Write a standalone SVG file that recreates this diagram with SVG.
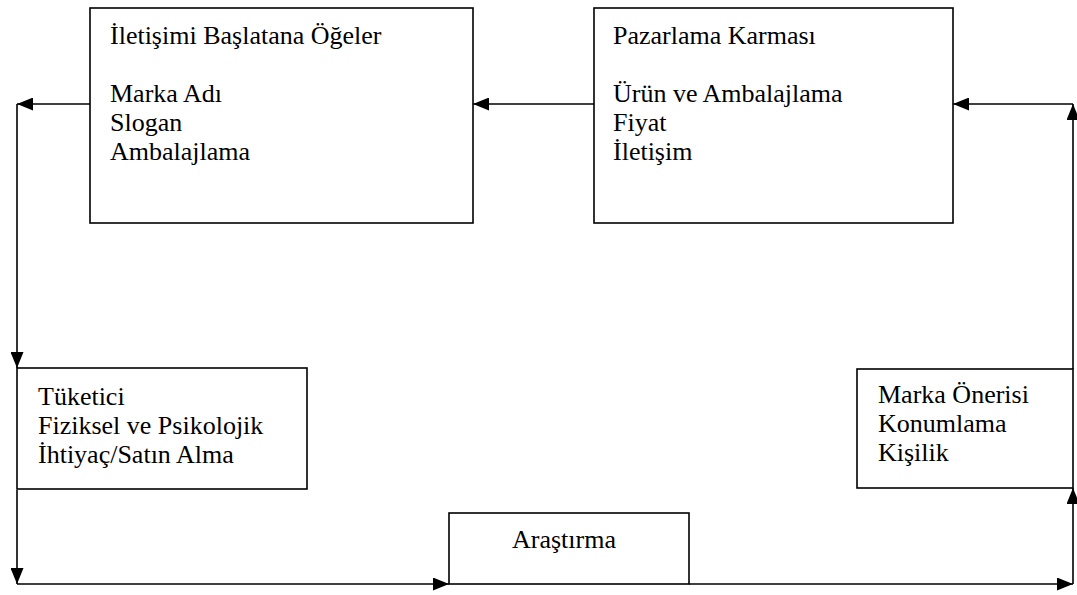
<svg xmlns="http://www.w3.org/2000/svg" width="1077" height="595" viewBox="0 0 1077 595">
<style>
.box{fill:#fff;stroke:#000;stroke-width:1.6}
.t{font-family:"Liberation Serif","Times New Roman",serif;font-size:26px;fill:#000}
.c{fill:none;stroke:#000;stroke-width:1.6}
</style>
<defs>
<marker id="ah" markerUnits="userSpaceOnUse" markerWidth="16" markerHeight="13" refX="16" refY="6.5" orient="auto">
<path d="M0,0 L16,6.5 L0,13 z" fill="#000"/>
</marker>
</defs>
<rect width="1077" height="595" fill="#fff"/>
<g id="connectors">
<path class="c" d="M594,104 H473" marker-end="url(#ah)"/>
<path class="c" d="M90,104 H17" marker-end="url(#ah)"/>
<path class="c" d="M17,104 V368" marker-end="url(#ah)"/>
<path class="c" d="M17,490 V584" marker-end="url(#ah)"/>
<path class="c" d="M17,584 H449" marker-end="url(#ah)"/>
<path class="c" d="M689,584 H1073" marker-end="url(#ah)"/>
<path class="c" d="M1073,584 V488" marker-end="url(#ah)"/>
<path class="c" d="M1073,369 V104" marker-end="url(#ah)"/>
<path class="c" d="M1073,104 H953" marker-end="url(#ah)"/>
</g>
<g id="iletisim">
<rect class="box" x="90" y="8" width="383" height="215"/>
<text class="t" x="110" y="44">İletişimi Başlatana Öğeler</text>
<text class="t" x="110" y="102">Marka Adı</text>
<text class="t" x="110" y="131">Slogan</text>
<text class="t" x="110" y="160">Ambalajlama</text>
</g>
<g id="pazarlama">
<rect class="box" x="594" y="8" width="359" height="215"/>
<text class="t" x="613" y="44">Pazarlama Karması</text>
<text class="t" x="613" y="102">Ürün ve Ambalajlama</text>
<text class="t" x="613" y="131">Fiyat</text>
<text class="t" x="613" y="160">İletişim</text>
</g>
<g id="tuketici">
<rect class="box" x="17" y="368" width="290" height="121"/>
<text class="t" x="38" y="405">Tüketici</text>
<text class="t" x="38" y="434">Fiziksel ve Psikolojik</text>
<text class="t" x="38" y="463">İhtiyaç/Satın Alma</text>
</g>
<g id="marka">
<rect class="box" x="857" y="369" width="216" height="119"/>
<text class="t" x="878" y="403">Marka Önerisi</text>
<text class="t" x="878" y="432">Konumlama</text>
<text class="t" x="878" y="461">Kişilik</text>
</g>
<g id="arastirma">
<rect class="box" x="449" y="513" width="240" height="71"/>
<text class="t" x="512" y="548">Araştırma</text>
</g>
</svg>
